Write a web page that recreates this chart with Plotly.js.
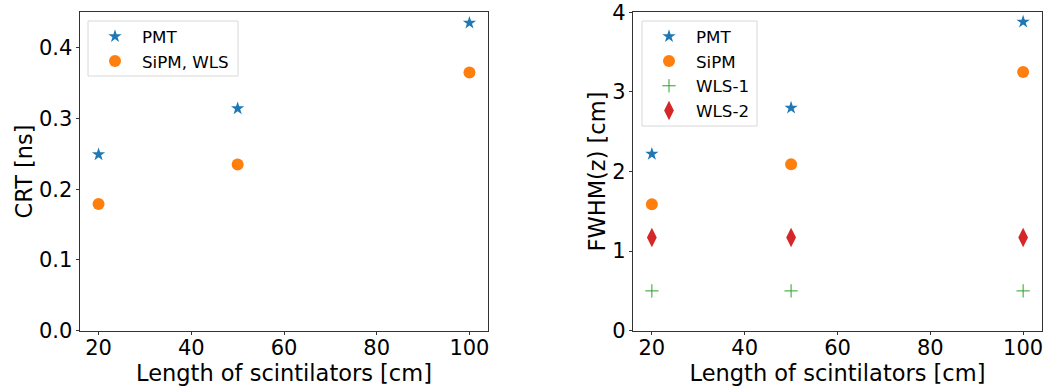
<!DOCTYPE html>
<html>
<head>
<meta charset="utf-8">
<script src="https://cdn.plot.ly/plotly-3.0.1.min.js"></script>
<style>html,body{margin:0;padding:0;background:#fff;}#plot{width:1049px;height:390px;}</style>
</head>
<body>
<div id="plot"></div>
<script>
// Data
const lengths = [20, 50, 100];
const crtPMT = [0.249, 0.314, 0.435];
const crtSiPM_WLS = [0.179, 0.235, 0.365];
const fwhmPMT = [2.22, 2.80, 3.88];
const fwhmSiPM = [1.59, 2.09, 3.25];
const fwhmWLS1 = [0.50, 0.50, 0.50];
const fwhmWLS2 = [1.17, 1.17, 1.17];
const crtTicks = [0, 0.1, 0.2, 0.3, 0.4];
const crtTickText = ['0.0', '0.1', '0.2', '0.3', '0.4'];
const fwhmTicks = [0, 1, 2, 3, 4];
const lengthTicks = [20, 40, 60, 80, 100];

const blue = '#1f77b4', orange = '#ff7f0e', green = '#2ca02c', red = '#d62728';
const fontFam = 'DejaVu Sans, sans-serif';

function tr(x, y, name, ax, leg, grp, marker) {
  return {x: x, y: y, name: name, mode: 'markers', type: 'scatter', xaxis: 'x' + ax, yaxis: 'y' + ax,
          legend: leg, legendgroup: grp, marker: marker};
}
const traces = [
  tr(lengths, crtPMT, 'PMT', '', 'legend', 'a1', {symbol: 'star', size: 10, color: blue, line: {width: 0}}),
  tr(lengths, crtSiPM_WLS, 'SiPM, WLS', '', 'legend', 'a2', {symbol: 'circle', size: 12, color: orange, line: {width: 0}}),
  tr(lengths, fwhmPMT, 'PMT', '2', 'legend2', 'b1', {symbol: 'star', size: 10, color: blue, line: {width: 0}}),
  tr(lengths, fwhmSiPM, 'SiPM', '2', 'legend2', 'b2', {symbol: 'circle', size: 12, color: orange, line: {width: 0}}),
  tr(lengths, fwhmWLS1, 'WLS-1', '2', 'legend2', 'b3', {symbol: 'cross-thin', size: 9.5, color: green, line: {width: 1, color: green}}),
  tr(lengths, fwhmWLS2, 'WLS-2', '2', 'legend2', 'b4', {symbol: 'diamond-tall', size: 14, color: red, line: {width: 0}})
];

const axBase = {
  showline: true, mirror: true, linecolor: '#333', linewidth: 1,
  ticks: 'outside', ticklen: 3.5, tickwidth: 1, tickcolor: '#333',
  showgrid: false, zeroline: false,
  tickfont: {family: fontFam, size: 21, color: '#000'}
};
const titleFont = {family: fontFam, size: 22.5, color: '#000'};

const legBase = {
  xanchor: 'left', yanchor: 'top',
  bgcolor: 'rgba(0,0,0,0)', borderwidth: 0,
  font: {family: fontFam, size: 16.7, color: '#000'},
  itemwidth: 44, tracegroupgap: 0
};

const yDom = [1 - 330.7 / 390, 1 - 12.3 / 390];
const layout = {
  width: 1049, height: 390,
  margin: {l: 0, r: 0, t: 0, b: 0},
  paper_bgcolor: '#fff', plot_bgcolor: '#fff',
  showlegend: true,
  xaxis: Object.assign({}, axBase, {domain: [80/1049, 488/1049], range: [16, 104], tickvals: lengthTicks,
    anchor: 'y', ticklabelstandoff: -5, title: {text: 'Length of scintilators [cm]', font: titleFont, standoff: 0}}),
  yaxis: Object.assign({}, axBase, {domain: yDom, range: [0, 0.45], tickvals: crtTicks,
    ticktext: crtTickText, anchor: 'x', ticklabelstandoff: -1, title: {text: 'CRT [ns]', font: titleFont, standoff: 0}}),
  xaxis2: Object.assign({}, axBase, {domain: [633.3/1049, 1041.7/1049], range: [16, 104], tickvals: lengthTicks,
    anchor: 'y2', ticklabelstandoff: -5, title: {text: 'Length of scintilators [cm]', font: titleFont, standoff: 0}}),
  yaxis2: Object.assign({}, axBase, {domain: yDom, range: [0, 4.0001], tickvals: fwhmTicks,
    anchor: 'x2', ticklabelstandoff: -1, title: {text: 'FWHM(z) [cm]', font: titleFont, standoff: 0}}),
  legend: Object.assign({}, legBase, {x: 88/1049, y: 1 - 19/390}),
  legend2: Object.assign({}, legBase, {x: 642/1049, y: 1 - 19/390}),
  shapes: [
    {type: 'rect', xref: 'paper', yref: 'paper', x0: 88/1049, x1: 238/1049, y0: 1 - 76/390, y1: 1 - 21/390,
     line: {color: '#d8d8d8', width: 1}, fillcolor: 'rgba(255,255,255,0.8)', layer: 'below'},
    {type: 'rect', xref: 'paper', yref: 'paper', x0: 642/1049, x1: 757/1049, y0: 1 - 126/390, y1: 1 - 21/390,
     line: {color: '#d8d8d8', width: 1}, fillcolor: 'rgba(255,255,255,0.8)', layer: 'below'}
  ]
};

Plotly.newPlot('plot', traces, layout, {staticPlot: true, displayModeBar: false});
</script>
</body>
</html>
